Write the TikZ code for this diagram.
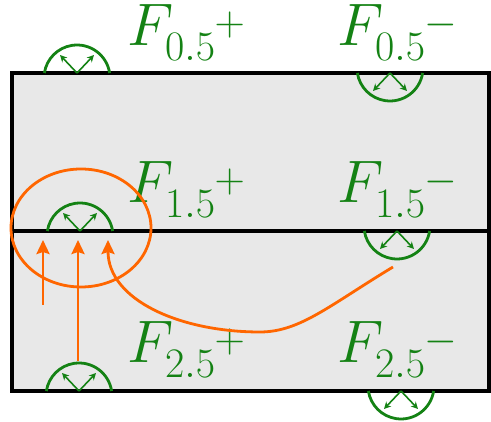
\RequirePackage{fix-cm}
\documentclass[tikz,border=0pt]{standalone}
\usetikzlibrary{arrows.meta}
\definecolor{fgreen}{RGB}{20,130,20}
\definecolor{forange}{RGB}{255,102,0}
\definecolor{fillgray}{RGB}{232,232,232}
\tikzset{
  face/.style={draw=fgreen, line width=2.8pt},
  fluxarrow/.style={draw=fgreen, line width=1.6pt, -{Stealth[length=7pt,width=7pt]}},
  lbl/.style={text=fgreen, font=\fontsize{60}{60}\selectfont, anchor=base west, inner sep=0pt},
  orangearrow/.style={draw=forange, line width=2.8pt, -{Stealth[length=14pt,width=13pt,inset=2pt]}},
  cellbox/.style={draw=black, line width=3.2pt, fill=fillgray},
}
\newcommand{\flab}[2]{${F_{#1}^{}}\kern-1pt\raisebox{10.5pt}{$\scriptstyle #2$}$}
\newcommand{\upface}[2]{%
  \draw[face] ([shift={(#1,#2-5)}]8.7:33) arc[start angle=8.7, end angle=171.3, radius=33pt];
  \draw[fluxarrow] (#1,#2) -- ++(-17,18);
  \draw[fluxarrow] (#1,#2) -- ++(17,18);
}
\newcommand{\downface}[2]{%
  \draw[face] ([shift={(#1,#2+5)}]-8.7:33) arc[start angle=-8.7, end angle=-171.3, radius=33pt];
  \draw[fluxarrow] (#1,#2) -- ++(-17,-18);
  \draw[fluxarrow] (#1,#2) -- ++(17,-18);
}
\begin{document}
\begin{tikzpicture}[x=1pt,y=1pt]
\useasboundingbox (0,0) rectangle (491,422);
% cells
\draw[cellbox] (12,191) rectangle (489,349);
\draw[cellbox] (12,31) rectangle (489,191);
% faces
\upface{77}{349}
\downface{390}{349}
\upface{80}{191}
\downface{397}{191}
\upface{79}{31}
\downface{401}{31}
% labels
\node[lbl] (f05p) at (127,376) {\flab{0.5}{+}};
\node[lbl] (f05m) at (337,376) {\flab{0.5}{-}};
\node[lbl] (f15p) at (127,219) {\flab{1.5}{+}};
\node[lbl] (f15m) at (337,219) {\flab{1.5}{-}};
\node[lbl] (f25p) at (127,59) {\flab{2.5}{+}};
\node[lbl] (f25m) at (337,59) {\flab{2.5}{-}};
% orange stencil
\draw[forange, line width=2.8pt] (81,194) ellipse[x radius=70pt, y radius=59pt];
\coordinate (a1s) at (43,117);
\coordinate (a1e) at (43,182);
\coordinate (a2s) at (78,61);
\coordinate (a2e) at (78,182);
\coordinate (a3s) at (393,155);
\coordinate (a3e) at (108,182);
\draw[orangearrow] (a1s) -- (a1e);
\draw[orangearrow] (a2s) -- (a2e);
\draw[orangearrow] (a3s) .. controls (330,117) and (300,90) .. (260,90) .. controls (180,90) and (108,122) .. (a3e);
\end{tikzpicture}
\end{document}
